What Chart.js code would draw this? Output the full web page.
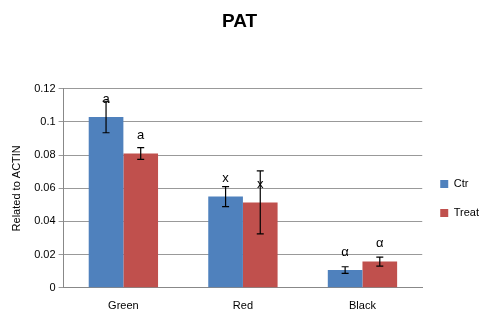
<!DOCTYPE html>
<html lang="en">
<head>
    <meta charset="UTF-8">
    <title>PAT</title>
    <script src="https://cdn.jsdelivr.net/npm/chart.js"></script>
    <style>
        body { margin: 0; background: #fff; }
        #wrap { width: 480px; height: 318px; position: relative; }
    </style>
</head>
<body>
    <div id="wrap"><canvas id="patChart"></canvas></div>

    <script>
        const categorias = ['Green', 'Red', 'Black'];
        const ctrValues = [0.103, 0.055, 0.0107];
        const treatValues = [0.081, 0.0515, 0.0158];
        const ctrErr = [0.0095, 0.006, 0.002];
        const treatErr = [0.0035, 0.019, 0.0027];
        const ctrLetters = ['a', 'x', 'α'];
        const treatLetters = ['a', 'x', 'α'];
        const yTicks = [0, 0.02, 0.04, 0.06, 0.08, 0.1, 0.12];

        const errors = [ctrErr, treatErr];
        const letters = [ctrLetters, treatLetters];
        const fonte = '"Liberation Sans", Arial, sans-serif';

        // draws error bars and significance letters over the bars
        const extrasPlugin = {
            id: 'extras',
            afterLayout(chart) {
                // push the legend down beside the lower half of the plot, recentre the title
                chart.legend.top += 34;
                chart.legend.bottom += 34;
                chart.titleBlock.left -= 8;
                chart.titleBlock.right -= 8;
            },
            afterDatasetsDraw(chart) {
                const ctx = chart.ctx;
                const y = chart.scales.y;
                ctx.save();
                chart.data.datasets.forEach((ds, di) => {
                    const meta = chart.getDatasetMeta(di);
                    meta.data.forEach((bar, i) => {
                        const v = ds.data[i];
                        const e = errors[di][i];
                        const top = y.getPixelForValue(v + e);
                        const bot = y.getPixelForValue(v - e);
                        ctx.strokeStyle = '#000';
                        ctx.lineWidth = 1.2;
                        ctx.beginPath();
                        ctx.moveTo(bar.x, top);
                        ctx.lineTo(bar.x, bot);
                        ctx.moveTo(bar.x - 3.5, top);
                        ctx.lineTo(bar.x + 3.5, top);
                        ctx.moveTo(bar.x - 3.5, bot);
                        ctx.lineTo(bar.x + 3.5, bot);
                        ctx.stroke();

                        ctx.fillStyle = '#000';
                        ctx.font = '13px ' + fonte;
                        ctx.textAlign = 'center';
                        ctx.textBaseline = 'middle';
                        ctx.fillText(letters[di][i], bar.x, y.getPixelForValue(v) - 18);
                    });
                });
                ctx.restore();
            }
        };

        const ctxBar = document.getElementById('patChart').getContext('2d');
        const patChart = new Chart(ctxBar, {
            type: 'bar',
            data: {
                labels: categorias,
                datasets: [{
                    label: 'Ctr',
                    data: ctrValues,
                    backgroundColor: '#4F81BD'
                }, {
                    label: 'Treat',
                    data: treatValues,
                    backgroundColor: '#C0504D'
                }]
            },
            options: {
                responsive: true,
                maintainAspectRatio: false,
                animation: false,
                categoryPercentage: 0.58,
                barPercentage: 1.0,
                layout: { padding: { left: 6, right: -9, top: 4, bottom: -7 } },
                plugins: {
                    title: {
                        display: true,
                        text: 'PAT',
                        color: '#000',
                        font: { family: fonte, size: 19, weight: 'bold' },
                        padding: { top: 6, bottom: 56 }
                    },
                    legend: {
                        position: 'right',
                        labels: {
                            boxWidth: 8,
                            boxHeight: 8,
                            color: '#000',
                            padding: 18,
                            font: { family: fonte, size: 11 }
                        }
                    },
                    tooltip: { enabled: false }
                },
                scales: {
                    x: {
                        grid: { display: false, tickLength: 0 },
                        border: { color: '#888' },
                        ticks: {
                            color: '#000',
                            padding: 12,
                            font: { family: fonte, size: 11 }
                        }
                    },
                    y: {
                        min: 0,
                        max: 0.12,
                        afterBuildTicks: axis => { axis.ticks = yTicks.map(v => ({ value: v })); },
                        grid: { color: '#999', tickLength: 5 },
                        border: { color: '#888' },
                        ticks: {
                            color: '#000',
                            font: { family: fonte, size: 11 },
                            callback: v => String(+v.toFixed(2))
                        },
                        title: {
                            display: true,
                            text: 'Related to ACTIN',
                            color: '#000',
                            padding: { top: 4, bottom: 8 },
                            font: { family: fonte, size: 11 }
                        }
                    }
                }
            },
            plugins: [extrasPlugin]
        });
    </script>
</body>
</html>
